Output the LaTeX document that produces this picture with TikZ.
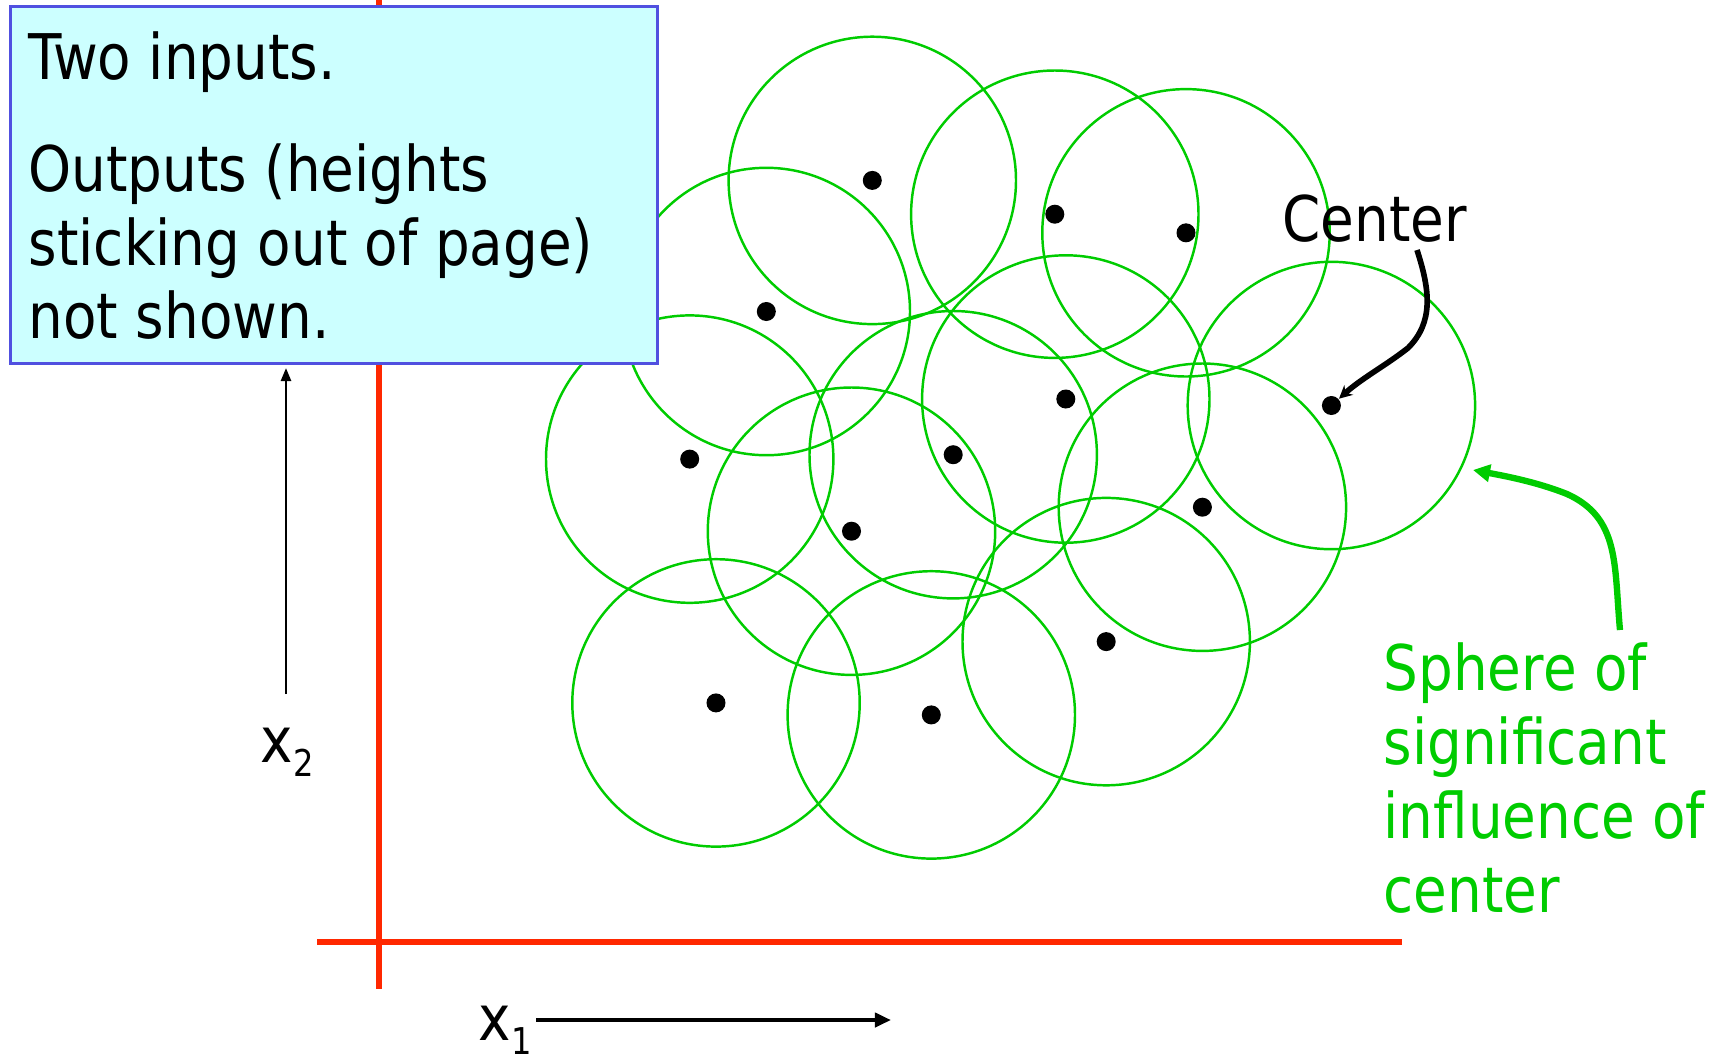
\documentclass[tikz,border=0pt]{standalone}
\usepackage{fontspec}
\setmainfont{DejaVu Sans}[FakeStretch=0.87]
\usetikzlibrary{arrows.meta}
\definecolor{cgreen}{RGB}{0,204,0}
\definecolor{cred}{RGB}{255,40,0}
\definecolor{cblue}{RGB}{80,80,224}
\definecolor{cfill}{RGB}{204,255,255}
\begin{document}
\begin{tikzpicture}[x=0.01cm,y=-0.01cm,
  sphere/.style={draw=cgreen,line width=0.7pt},
  ctr/.style={circle,fill=black,inner sep=0pt,minimum size=0.19cm},
  txt/.style={anchor=base west,inner sep=0pt,font=\fontsize{17.9}{20.8}\selectfont},
  axisline/.style={draw=cred,line width=1.85pt},
  dirarrow/.style={draw=black,line width=0.8pt,-{Triangle[length=0.16cm,width=0.14cm]}}]
\useasboundingbox (0,0) rectangle (1714,1060);
% centres
\node[ctr] (cA) at (872.3,180.4) {};
\node[ctr] (cB) at (1054.8,214.2) {};
\node[ctr] (cC) at (1186.0,232.8) {};
\node[ctr] (cD) at (766.3,311.5) {};
\node[ctr] (cE) at (689.7,459.1) {};
\node[ctr] (cF) at (851.5,531.2) {};
\node[ctr] (cG) at (953.2,454.7) {};
\node[ctr] (cH) at (1065.8,399.0) {};
\node[ctr] (cI) at (1202.4,507.2) {};
\node[ctr] (cJ) at (1331.4,405.5) {};
\node[ctr] (cK) at (1106.2,641.6) {};
\node[ctr] (cL) at (716.0,702.9) {};
\node[ctr] (cM) at (931.3,714.9) {};
% spheres
\foreach \c in {cA,cB,cC,cD,cE,cF,cG,cH,cI,cJ,cK,cL,cM}
  \draw[sphere] (\c.center) circle[radius=143.7];
% axes
\coordinate (vtop) at (379,0);
\coordinate (vbot) at (379,989);
\coordinate (hl) at (317,942);
\coordinate (hr) at (1402,942);
\draw[axisline] (vtop) -- (vbot);
\draw[axisline] (hl) -- (hr);
% info box
\node[draw=cblue,fill=cfill,line width=0.75pt,anchor=north west,inner sep=0pt,
      minimum width=6.47cm,minimum height=3.57cm] (box) at (9,5) {};
\node[txt] (t1) at (28,79) {Two inputs.};
\node[txt] (t2) at (28,191) {Outputs (heights};
\node[txt] (t3) at (28,265) {sticking out of page)};
\node[txt] (t4) at (28,338) {not shown.};
% axis labels and arrows
\node[txt] (x2) at (260,762) {x\raisebox{-4pt}{\fontsize{10.5}{11}\selectfont 2}};
\node[txt] (x1) at (478,1040) {x\raisebox{-4pt}{\fontsize{10.5}{11}\selectfont 1}};
\coordinate (x2s) at (286,694);
\coordinate (x2e) at (286,368);
\coordinate (x1s) at (536,1020);
\coordinate (x1e) at (891,1020);
\draw[dirarrow,line width=0.7pt,-{Triangle[length=0.13cm,width=0.1cm]}] (x2s) -- (x2e);
\draw[dirarrow,line width=1.1pt] (x1s) -- (x1e);
% Center label
\node[txt] (clbl) at (1282,241) {Center};
\coordinate (cstart) at (1417,250);
\draw[line width=1.6pt,-{Stealth[length=0.13cm,width=0.13cm]}] (cstart)
  .. controls (1430,290) and (1434,322) .. (1408,348)
  .. controls (1385,366) and (1362,378) .. (cJ);
% Sphere label
\node[txt,text=cgreen] (s1) at (1383,690) {Sphere of};
\node[txt,text=cgreen] (s2) at (1383,764) {significant};
\node[txt,text=cgreen] (s3) at (1383,838) {influence of};
\node[txt,text=cgreen] (s4) at (1383,912) {center};
\coordinate (gstart) at (1620,630);
\coordinate (gend) at (1473,470);
\draw[draw=cgreen,line width=1.8pt,-{Triangle[length=0.17cm,width=0.17cm]}] (gstart)
  .. controls (1614,565) and (1620,518) .. (1567,494)
  .. controls (1537,482) and (1505,476) .. (gend);
\end{tikzpicture}
\end{document}
